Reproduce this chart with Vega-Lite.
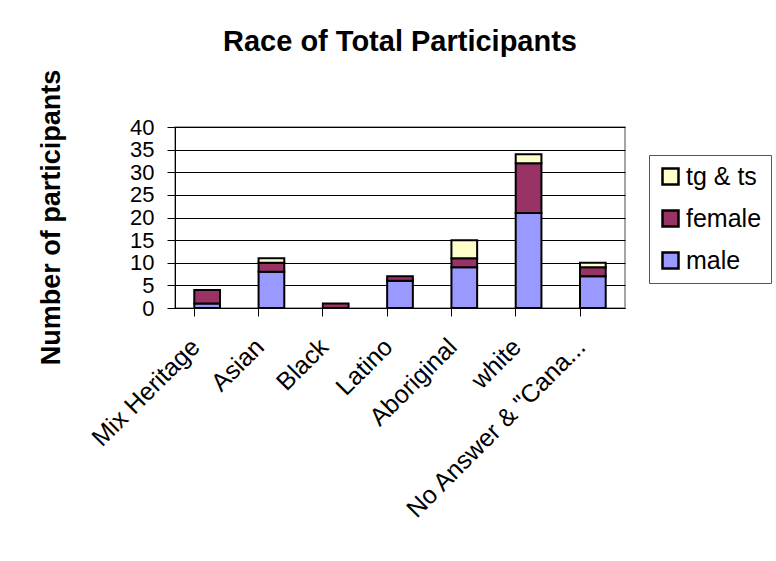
{
  "$schema": "https://vega.github.io/schema/vega-lite/v6.json",
  "autosize": "none",
  "width": 450,
  "height": 181,
  "padding": {"left": 175, "top": 127, "right": 151, "bottom": 253},
  "background": "white",
  "title": {
    "text": "Race of Total Participants",
    "font": "Liberation Sans",
    "fontSize": 29,
    "fontWeight": "bold",
    "color": "black",
    "anchor": "middle",
    "offset": 12
  },
  "data": {
    "values": [
      {"race": "Mix Heritage", "gender": "male", "count": 1},
      {"race": "Mix Heritage", "gender": "female", "count": 3},
      {"race": "Mix Heritage", "gender": "tg & ts", "count": 0},
      {"race": "Asian", "gender": "male", "count": 8},
      {"race": "Asian", "gender": "female", "count": 2},
      {"race": "Asian", "gender": "tg & ts", "count": 1},
      {"race": "Black", "gender": "male", "count": 0},
      {"race": "Black", "gender": "female", "count": 1},
      {"race": "Black", "gender": "tg & ts", "count": 0},
      {"race": "Latino", "gender": "male", "count": 6},
      {"race": "Latino", "gender": "female", "count": 1},
      {"race": "Latino", "gender": "tg & ts", "count": 0},
      {"race": "Aboriginal", "gender": "male", "count": 9},
      {"race": "Aboriginal", "gender": "female", "count": 2},
      {"race": "Aboriginal", "gender": "tg & ts", "count": 4},
      {"race": "white", "gender": "male", "count": 21},
      {"race": "white", "gender": "female", "count": 11},
      {"race": "white", "gender": "tg & ts", "count": 2},
      {"race": "No Answer & \"Cana...", "gender": "male", "count": 7},
      {"race": "No Answer & \"Cana...", "gender": "female", "count": 2},
      {"race": "No Answer & \"Cana...", "gender": "tg & ts", "count": 1}
    ]
  },
  "transform": [
    {"filter": "datum.count > 0"},
    {"calculate": "indexof(['male','female','tg & ts'], datum.gender)", "as": "stack_key"}
  ],
  "mark": {"type": "bar", "stroke": "black", "strokeWidth": 2},
  "encoding": {
    "x": {
      "field": "race",
      "type": "nominal",
      "sort": null,
      "scale": {"paddingInner": 0.6, "paddingOuter": 0.3},
      "axis": {
        "title": null,
        "labelAngle": -45,
        "labelFont": "Liberation Sans",
        "labelFontSize": 25,
        "labelColor": "black",
        "labelPadding": 18,
        "labelOffset": -20,
        "labelLimit": 0,
        "labelOverlap": false,
        "bandPosition": 0,
        "ticks": true,
        "tickSize": 8,
        "tickColor": "black",
        "domainColor": "black",
        "grid": false
      }
    },
    "y": {
      "field": "count",
      "type": "quantitative",
      "stack": "zero",
      "scale": {"domain": [0, 40], "nice": false},
      "axis": {
        "title": "Number of participants",
        "titleFont": "Liberation Sans",
        "titleFontSize": 27,
        "titleFontWeight": "bold",
        "titleColor": "black",
        "titlePadding": 0,
        "titleX": -124,
        "titleY": 90,
        "titleAlign": "center",
        "titleBaseline": "middle",
        "values": [0, 5, 10, 15, 20, 25, 30, 35, 40],
        "labelFont": "Liberation Sans",
        "labelFontSize": 22,
        "labelColor": "black",
        "labelPadding": 13,
        "labelBaseline": "middle",
        "labelOverlap": false,
        "labelBound": false,
        "labelFlush": false,
        "tickSize": 8,
        "tickColor": "black",
        "domainColor": "black",
        "grid": true,
        "gridColor": "black",
        "gridWidth": 1
      }
    },
    "color": {
      "field": "gender",
      "type": "nominal",
      "scale": {
        "domain": ["tg & ts", "female", "male"],
        "range": ["#FFFFCC", "#993366", "#9999FF"]
      },
      "legend": {
        "title": null,
        "orient": "none",
        "legendX": 474,
        "legendY": 28,
        "symbolType": "square",
        "symbolSize": 256,
        "symbolStrokeColor": "black",
        "symbolStrokeWidth": 2.5,
        "labelFont": "Liberation Sans",
        "labelFontSize": 25,
        "labelColor": "black",
        "labelOffset": 3,
        "rowPadding": 15,
        "padding": 9,
        "strokeColor": "#555555",
        "fillColor": "white"
      }
    },
    "order": {"field": "stack_key", "type": "quantitative", "sort": "ascending"}
  },
  "config": {
    "view": {"stroke": "#888888", "strokeWidth": 1.5}
  }
}
